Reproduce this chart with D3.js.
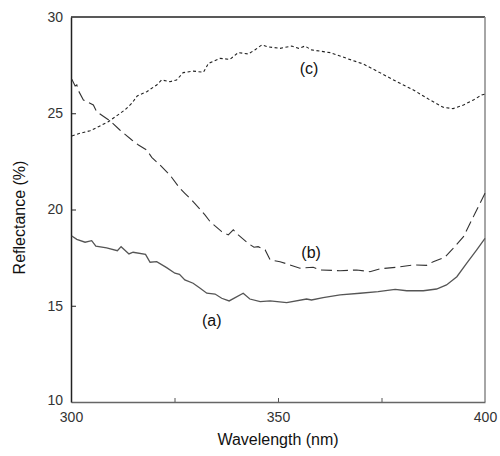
<!DOCTYPE html>
<meta charset="utf-8">
<style>
    body { margin: 0; background: #fff; }
    .tick text { font-family: "Liberation Sans Narrow", "Liberation Sans", Arial, sans-serif; font-size: 14px; fill: #333; }
    .title { font-family: "Liberation Sans", Arial, sans-serif; font-size: 16px; fill: #111; }
    .tag { font-family: "Liberation Sans", Arial, sans-serif; font-size: 16px; fill: #111; }
</style>
<body></body>
<script src="https://d3js.org/d3.v7.min.js"></script>
<script>

    // curve (a) - solid
    var wlA = [300.2, 301.4, 303.4, 305.0, 306.0, 308.6, 311.2, 312.1, 314.0, 315.0, 318.0, 319.1, 320.7, 323.1, 325.1, 326.2, 327.5, 329.5, 331.2, 332.8, 334.8, 336.4, 338.2, 341.6, 343.2, 345.7, 348.1, 352.1, 356.9, 358.1, 360.9, 365.0, 369.8, 374.2, 378.3, 381.1, 385.1, 388.3, 390.7, 393.2, 395.6, 398.0, 400];
    var valA = [18.62, 18.45, 18.30, 18.38, 18.10, 18.01, 17.86, 18.07, 17.69, 17.78, 17.67, 17.26, 17.29, 16.98, 16.69, 16.63, 16.34, 16.17, 15.91, 15.65, 15.61, 15.39, 15.25, 15.65, 15.35, 15.21, 15.25, 15.16, 15.35, 15.30, 15.42, 15.56, 15.65, 15.73, 15.85, 15.78, 15.78, 15.87, 16.08, 16.51, 17.21, 17.90, 18.50];

    // curve (b) - dashed
    var wlB = [300.2, 301.0, 301.4, 301.8, 303.0, 305.4, 306.2, 309.4, 311.8, 314.7, 316.3, 318.3, 319.5, 321.5, 323.9, 326.3, 327.5, 329.5, 332.4, 333.6, 336.4, 338.0, 339.2, 340.4, 342.8, 344.2, 345.2, 346.9, 348.1, 350.5, 352.9, 355.3, 358.5, 360.1, 365.0, 369.0, 372.2, 374.6, 378.7, 382.7, 385.9, 387.5, 390.3, 392.3, 394.8, 397.6, 400];
    var valB = [26.76, 26.42, 26.47, 26.17, 25.69, 25.43, 25.08, 24.61, 24.13, 23.61, 23.35, 23.09, 22.71, 22.31, 21.79, 21.10, 20.84, 20.41, 19.71, 19.37, 18.85, 18.68, 18.94, 18.68, 18.24, 18.04, 18.07, 17.90, 17.38, 17.29, 17.12, 16.95, 17.00, 16.86, 16.82, 16.86, 16.77, 16.92, 17.00, 17.12, 17.10, 17.29, 17.52, 17.98, 18.59, 19.80, 20.84];

    // curve (c) - dotted
    var wlC = [300.2, 302.2, 304.6, 307.0, 309.0, 311.0, 313.0, 314.7, 316.0, 318.3, 320.7, 321.9, 323.9, 325.5, 327.1, 329.5, 332.0, 333.2, 336.0, 338.4, 340.4, 342.8, 344.4, 346.1, 347.3, 350.5, 353.3, 355.0, 356.5, 358.1, 362.6, 366.6, 370.6, 374.6, 378.7, 382.7, 386.7, 389.9, 392.3, 394.8, 397.2, 399.2, 400];
    var valC = [23.82, 23.96, 24.09, 24.34, 24.56, 24.86, 25.17, 25.52, 25.90, 26.12, 26.47, 26.73, 26.64, 26.73, 27.11, 27.19, 27.13, 27.59, 27.85, 27.80, 28.15, 28.08, 28.29, 28.55, 28.46, 28.37, 28.49, 28.37, 28.49, 28.29, 28.15, 27.85, 27.56, 27.11, 26.64, 26.21, 25.69, 25.31, 25.24, 25.43, 25.69, 25.95, 26.0];

    var xTicks = [300, 325, 350, 375, 400];
    var xLabels = [300, 350, 400];
    var yTicks = [10, 15, 20, 25, 30];

    var margin = {top: 17, right: 15, bottom: 54, left: 71},
        width = 500 - margin.left - margin.right,
        height = 456 - margin.top - margin.bottom;

    var svg = d3.select("body").append("svg")
        .attr("width", 500)
        .attr("height", 456)
        .append("g")
        .attr("transform", "translate(" + margin.left + "," + margin.top + ")");

    var x = d3.scaleLinear().domain([300, 400]).range([0, width]);
    var y = d3.scaleLinear().domain([10, 30]).range([height, 0]);

    // frame: top & left dark, right & bottom lighter
    svg.append("line").attr("x1", 0).attr("x2", width).attr("y1", 0).attr("y2", 0)
        .attr("stroke", "#222").attr("stroke-width", 1.5);
    svg.append("line").attr("x1", width).attr("x2", width).attr("y1", 0).attr("y2", height)
        .attr("stroke", "#888").attr("stroke-width", 1.5);

    var xAxis = svg.append("g")
        .attr("transform", "translate(0," + height + ")")
        .call(d3.axisBottom(x).tickValues(xTicks).tickSizeInner(-4).tickSizeOuter(0).tickPadding(10)
            .tickFormat(function(d) { return xLabels.indexOf(d) >= 0 ? d : ""; }));
    xAxis.select(".domain").attr("stroke", "#666").attr("stroke-width", 1.5);
    xAxis.selectAll(".tick line").attr("stroke", "#555");

    var yAxis = svg.append("g")
        .call(d3.axisLeft(y).tickValues(yTicks).tickSizeInner(-5).tickSizeOuter(0).tickPadding(8));
    yAxis.select(".domain").attr("stroke", "#222").attr("stroke-width", 1.5);
    yAxis.selectAll(".tick line").attr("stroke", "#222");
    yAxis.selectAll(".tick").filter(function(d) { return d == 10 || d == 30; }).select("line").remove();
    xAxis.selectAll(".tick").filter(function(d) { return d == 300 || d == 400; }).select("line").remove();
    // "10" sits slightly above the bottom line, "300" below it
    yAxis.selectAll(".tick").filter(function(d) { return d == 10; }).select("text").attr("dy", "0.2em");

    var line = d3.line()
        .x(function(d) { return x(d[0]); })
        .y(function(d) { return y(d[1]); });

    svg.append("path")
        .datum(d3.zip(wlA, valA))
        .attr("fill", "none").attr("stroke", "#555").attr("stroke-width", 1.3)
        .attr("d", line);

    svg.append("path")
        .datum(d3.zip(wlB, valB))
        .attr("fill", "none").attr("stroke", "#333").attr("stroke-width", 1.1)
        .attr("stroke-dasharray", "11,5")
        .attr("d", line);

    svg.append("path")
        .datum(d3.zip(wlC, valC))
        .attr("fill", "none").attr("stroke", "#222").attr("stroke-width", 1.1)
        .attr("stroke-dasharray", "3,2.5")
        .attr("d", line);

    // curve tags
    svg.append("text").attr("class", "tag").attr("x", x(357.5)).attr("y", y(27.05)).attr("text-anchor", "middle").text("(c)");
    svg.append("text").attr("class", "tag").attr("x", x(358.0)).attr("y", y(17.5)).attr("text-anchor", "middle").text("(b)");
    svg.append("text").attr("class", "tag").attr("x", x(334.0)).attr("y", y(13.95)).attr("text-anchor", "middle").text("(a)");

    // axis titles
    svg.append("text").attr("class", "title")
        .attr("x", width / 2).attr("y", height + 43)
        .attr("text-anchor", "middle").text("Wavelength (nm)");

    svg.append("text").attr("class", "title")
        .attr("transform", "translate(" + (-46) + "," + (height / 2 + 8) + ") rotate(-90)")
        .attr("text-anchor", "middle").text("Reflectance (%)");

</script>
